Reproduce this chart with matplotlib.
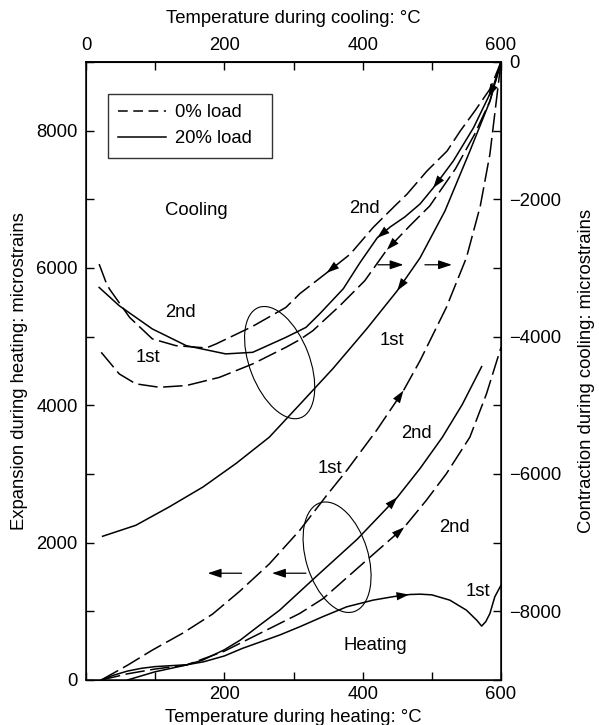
import numpy as np
import matplotlib
matplotlib.use("Agg")
import matplotlib.pyplot as plt
from matplotlib.patches import Ellipse
from matplotlib.transforms import ScaledTranslation
from matplotlib.lines import Line2D

plt.rcParams['font.family'] = ['Liberation Sans', 'DejaVu Sans']
plt.rcParams['lines.scale_dashes'] = False

# ---------------- data ----------------
# Heating curves: temperature (degC) vs expansion (microstrain), left/bottom axes
h1_0_T = [22, 60, 96, 140, 183, 222, 265, 309, 348, 377, 420, 459, 483, 521, 550, 570, 584, 600]
h1_0_E = [0, 215, 436, 683, 960, 1290, 1690, 2180, 2689, 3052, 3634, 4215, 4651, 5426, 6150, 6900, 7660, 9000]

h1_20_T = [22, 40, 60, 80, 100, 125, 146, 170, 200, 226, 280, 309, 343, 377, 415, 445, 468, 483, 500, 526, 550, 565, 572, 578, 584, 591, 600]
h1_20_E = [0, 70, 130, 170, 195, 210, 222, 265, 350, 460, 655, 775, 925, 1066, 1163, 1215, 1245, 1250, 1240, 1163, 1017, 870, 785, 850, 969, 1211, 1380]

h2_20_T = [60, 100, 145, 169, 200, 223, 250, 280, 338, 392, 450, 483, 515, 544, 572]
h2_20_E = [0, 120, 218, 291, 440, 581, 790, 1017, 1555, 2049, 2660, 3081, 3532, 4012, 4564]

h2_0_T = [22, 60, 100, 145, 200, 261, 309, 343, 411, 460, 492, 521, 555, 579, 600]
h2_0_E = [0, 90, 160, 218, 420, 727, 969, 1187, 1792, 2224, 2616, 3004, 3537, 4167, 4844]

# Cooling curves: temperature (degC) vs contraction (microstrain), top/right axes
c1_20_T = [24, 72, 120, 169, 217, 265, 309, 357, 406, 450, 483, 519, 555, 584, 600]
c1_20_C = [-6907, -6747, -6481, -6190, -5846, -5464, -4988, -4465, -3884, -3331, -2852, -2169, -1297, -570, 0]

c1_0_T = [22, 48, 72, 106, 145, 193, 241, 289, 309, 328, 367, 403, 435, 468, 497, 534, 562, 584, 600]
c1_0_C = [-4228, -4542, -4687, -4737, -4712, -4592, -4397, -4155, -4044, -3913, -3549, -3186, -2735, -2387, -2096, -1558, -1049, -570, 0]

c2_0_T = [19, 29, 34, 63, 96, 130, 174, 188, 240, 289, 309, 348, 382, 415, 449, 464, 493, 522, 541, 562, 584, 600]
c2_0_C = [-2943, -3211, -3307, -3719, -4033, -4131, -4164, -4106, -3855, -3574, -3375, -3070, -2798, -2411, -2071, -1926, -1587, -1297, -1006, -715, -395, 0]

c2_20_T = [19, 48, 96, 145, 202, 241, 289, 318, 338, 372, 396, 421, 440, 461, 483, 502, 531, 560, 588, 600]
c2_20_C = [-3283, -3549, -3888, -4131, -4251, -4228, -4010, -3865, -3666, -3302, -2924, -2561, -2401, -2256, -2067, -1834, -1442, -962, -381, 0]

legend_labels = ['0% load', '20% load']
x_ticks_bottom = [200, 400, 600]
x_ticks_top = [0, 200, 400, 600]
y_ticks_left = [0, 2000, 4000, 6000, 8000]
y_ticks_right = [0, -2000, -4000, -6000, -8000]

# ---------------- figure ----------------
fs = 13.3
fig = plt.figure(figsize=(5.99, 7.25), dpi=100)
ax = fig.add_axes([86/599, 1-680/725, (501-86)/599, (680-62)/725])
ax2 = ax.twinx()

ax.set_xlim(0, 600)
ax.set_ylim(0, 9000)
ax2.set_ylim(-9000, 0)

DASH = (0, (14, 4))
lw = 1.1
ax.plot(h1_0_T, h1_0_E, color='k', lw=lw, linestyle=DASH)
ax.plot(h1_20_T, h1_20_E, color='k', lw=lw)
ax.plot(h2_20_T, h2_20_E, color='k', lw=lw)
ax.plot(h2_0_T, h2_0_E, color='k', lw=lw, linestyle=DASH)

ax2.plot(c1_20_T, c1_20_C, color='k', lw=lw)
ax2.plot(c1_0_T, c1_0_C, color='k', lw=lw, linestyle=DASH)
ax2.plot(c2_0_T, c2_0_C, color='k', lw=lw, linestyle=DASH)
ax2.plot(c2_20_T, c2_20_C, color='k', lw=lw)

# arrowheads along curves
def head(a, T, Y, t0, forward=True):
    y0 = np.interp(t0, T, Y)
    dt = 4 if forward else -4
    y1 = np.interp(t0 + dt, T, Y)
    a.annotate('', xy=(t0 + dt, y1), xytext=(t0, y0),
               arrowprops=dict(arrowstyle='-|>,head_length=0.9,head_width=0.3',
                               color='k', lw=0, shrinkA=0, shrinkB=0, mutation_scale=10))

head(ax, h1_0_T, h1_0_E, 455)
head(ax, h2_20_T, h2_20_E, 446)
head(ax, h2_0_T, h2_0_E, 456)
head(ax, h1_20_T, h1_20_E, 463)
head(ax2, c1_20_T, c1_20_C, 454, forward=False)
head(ax2, c2_20_T, c2_20_C, 425, forward=False)
head(ax2, c2_20_T, c2_20_C, 506, forward=False)
head(ax2, c1_0_T, c1_0_C, 439, forward=False)
head(ax2, c2_0_T, c2_0_C, 352, forward=False)
head(ax2, c2_20_T, c2_20_C, 586, forward=False)

# horizontal pointer arrows
hp = dict(arrowstyle='-|>,head_length=0.9,head_width=0.3', color='k', lw=0.9,
          shrinkA=0, shrinkB=0, mutation_scale=9)
ax2.annotate('', xy=(459, -2953), xytext=(422, -2953), arrowprops=hp)
ax2.annotate('', xy=(529, -2953), xytext=(490, -2953), arrowprops=hp)
ax.annotate('', xy=(176, 1555), xytext=(225, 1555), arrowprops=hp)
ax.annotate('', xy=(269, 1555), xytext=(318, 1555), arrowprops=hp)

# ellipses (size in inches, centre in data units)
def ell(xc, yc, w, h, ang):
    tr = fig.dpi_scale_trans + ScaledTranslation(xc, yc, ax.transData)
    ax.add_patch(Ellipse((0, 0), w, h, angle=ang, transform=tr, fill=False,
                         edgecolor='k', lw=0.8))
ell(280, 4622, 1.18, 0.60, -69)
ell(363, 1788, 1.14, 0.62, -73)

# text labels
ax.text(160, 6831, 'Cooling', fontsize=fs, ha='center', va='center')
ax.text(418, 509, 'Heating', fontsize=fs, ha='center', va='center')
for (tx, ty, s) in [(403, 6860, '2nd'), (137, 5349, '2nd'), (90, 4695, '1st'),
                    (442, 4942, '1st'), (478, 3590, '2nd'), (353, 3081, '1st'),
                    (533, 2224, '2nd'), (567, 1294, '1st')]:
    ax.text(tx, ty, s, fontsize=fs, ha='center', va='center')

# legend
handles = [Line2D([], [], color='k', lw=lw, linestyle=(0, (7, 4))),
           Line2D([], [], color='k', lw=lw)]
leg = ax.legend(handles, legend_labels, loc='upper left',
                bbox_to_anchor=(22/415, 0.5, 164/415, 1 - 32/618 - 0.5), mode='expand',
                fontsize=fs, frameon=True, fancybox=False, edgecolor='k',
                handlelength=2.6, borderpad=0.55, labelspacing=0.5, handletextpad=0.5,
                borderaxespad=0)
leg.get_frame().set_linewidth(1.0)

# axes / ticks
for sp in ax.spines.values():
    sp.set_linewidth(1.1)
ax.set_xticks(range(0, 601, 100))
ax.set_xticklabels(['' if t not in x_ticks_bottom else str(t) for t in range(0, 601, 100)])
ax.set_yticks(range(0, 9001, 1000))
ax.set_yticklabels([str(t) if t in y_ticks_left else '' for t in range(0, 9001, 1000)])
ax.tick_params(axis='both', direction='in', length=6, width=1.0, labelsize=fs, pad=4)
ax.tick_params(axis='y', pad=6)

ax2.set_yticks(range(-9000, 1, 1000))
ax2.set_yticklabels([('\u2212' + str(-t) if t < 0 else str(t)) if t in y_ticks_right else ''
                     for t in range(-9000, 1, 1000)])
ax2.tick_params(axis='y', direction='in', length=6, width=1.0, labelsize=fs, pad=6)

top = ax.secondary_xaxis('top')
top.set_xticks(range(0, 601, 100))
top.set_xticklabels([str(t) if t in x_ticks_top else '' for t in range(0, 601, 100)])
top.tick_params(direction='in', length=6, width=1.0, labelsize=fs, pad=5.5)
top.spines['top'].set_linewidth(1.1)
top.set_xlabel('Temperature during cooling: \u00b0C', fontsize=fs, labelpad=10)

ax.set_xlabel('Temperature during heating: \u00b0C', fontsize=fs, labelpad=5)
ax.set_ylabel('Expansion during heating: microstrains', fontsize=fs, labelpad=6)
ax2.set_ylabel('Contraction during cooling: microstrains', fontsize=fs, labelpad=12)

fig.savefig('out.png', dpi=100)
